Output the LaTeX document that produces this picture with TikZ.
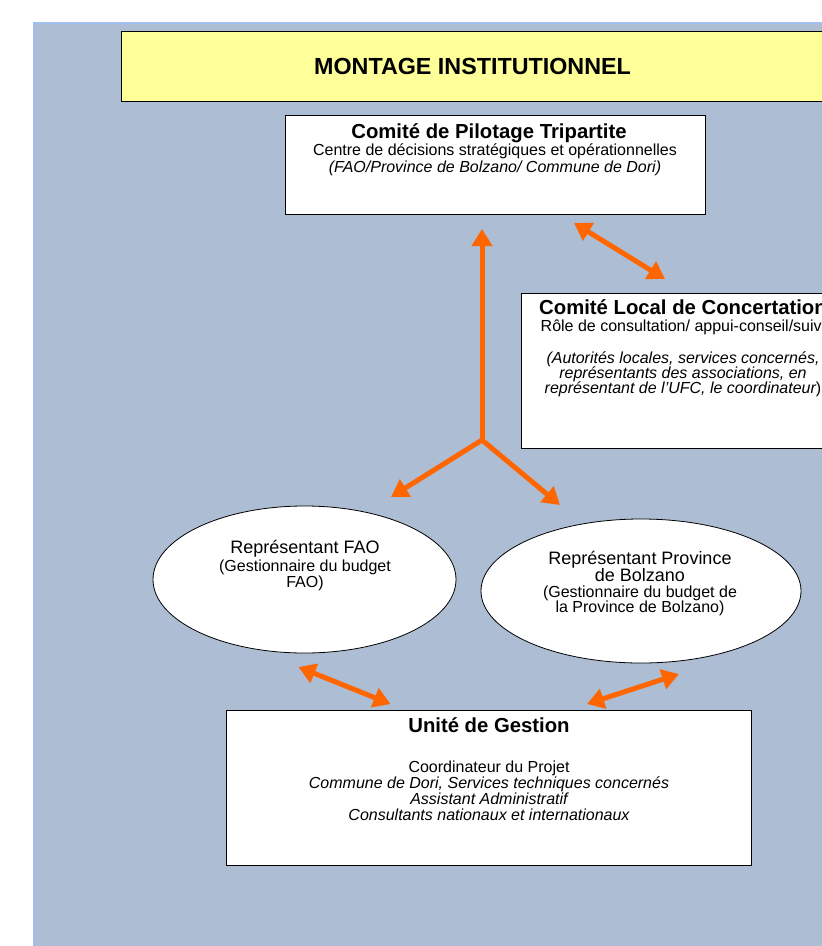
\documentclass[tikz,border=0pt]{standalone}
\usepackage{fontspec}
\setmainfont{Liberation Sans}
\usetikzlibrary{arrows.meta,shapes.geometric}

\definecolor{fondbleu}{RGB}{173,189,211}
\definecolor{bordbleu}{RGB}{160,192,238}
\definecolor{jaunetitre}{RGB}{255,255,153}
\definecolor{orangefleche}{RGB}{255,102,0}

\tikzset{
  boite/.style={draw=black, fill=white, line width=0.9pt, inner sep=0pt},
  bulle/.style={ellipse, draw=black, fill=white, line width=0.8pt, inner sep=0pt},
  titre/.style={font=\fontsize{20.3}{22}\selectfont\bfseries, anchor=base, inner sep=0pt},
  texte/.style={font=\fontsize{16}{17}\selectfont, anchor=base, inner sep=0pt},
  grand/.style={font=\fontsize{18}{20}\selectfont, anchor=base, inner sep=0pt},
  pointe/.tip={Triangle[length=17pt,width=20pt]},
  fleche/.style={draw=orangefleche, line width=5pt, -pointe},
  dfleche/.style={draw=orangefleche, line width=5pt, pointe-pointe},
}

\begin{document}
\begin{tikzpicture}[x=1pt,y=-1pt]
\useasboundingbox (0,0) rectangle (822,946);
\clip (0,0) rectangle (822,946);

% fond
\fill[white] (0,0) rectangle (822,946);
\draw[bordbleu, line width=2.5pt, fill=fondbleu] (34,23) rectangle (840,960);

% titre
\node[boite, fill=jaunetitre, minimum width=703pt, minimum height=70pt] (montage) at (472.5,66) {};
\node[font=\fontsize{23.3}{25}\selectfont\bfseries, anchor=base, inner sep=0pt] (montage-txt) at (472.5,74) {MONTAGE INSTITUTIONNEL};

% comite de pilotage
\node[boite, minimum width=420pt, minimum height=99pt] (pilotage) at (495,164.5) {};
\node[titre] (pilotage-titre) at (489,138) {Comité de Pilotage Tripartite};
\foreach \ligne [count=\i] in {{Centre de décisions stratégiques et opérationnelles},
  {\itshape (FAO/Province de Bolzano/ Commune de Dori)}}
  \node[texte] (pilotage-\i) at (495,138+17*\i) {\ligne};

% comite local
\node[boite, minimum width=323pt, minimum height=155pt] (local) at (683,370.5) {};
\node[titre] (local-titre) at (683,314) {Comité Local de Concertation};
\node[texte] (local-role) at (683,331.5) {Rôle de consultation/ appui-conseil/suivi};
\foreach \ligne [count=\i] in {{(Autorités locales, services concernés,},
  {représentants des associations, en},
  {représentant de l’UFC, le coordinateur\upshape)}}
  \node[texte, font=\fontsize{16}{17}\selectfont\itshape] (local-\i) at (683,348+15*\i) {\ligne};

% representants
\node[bulle, minimum width=303pt, minimum height=147pt] (fao) at (304.5,579.5) {};
\node[grand] (fao-titre) at (305,553) {Représentant FAO};
\node[texte] (fao-1) at (305,571) {(Gestionnaire du budget};
\node[texte] (fao-2) at (305,587) {FAO)};

\node[bulle, minimum width=320pt, minimum height=144pt] (bolzano) at (641,591) {};
\node[grand] (bolzano-titre) at (640,564.5) {Représentant Province};
\node[grand] (bolzano-titre2) at (640,581) {de Bolzano};
\node[texte] (bolzano-1) at (640,597.5) {(Gestionnaire du budget de};
\node[texte] (bolzano-2) at (640,612.5) {la Province de Bolzano)};

% unite de gestion
\node[boite, minimum width=525pt, minimum height=155pt] (gestion) at (488.5,787.5) {};
\node[titre] (gestion-titre) at (489,732) {Unité de Gestion};
\foreach \ligne [count=\i] in {{Coordinateur du Projet},
  {\itshape Commune de Dori, Services techniques concernés},
  {\itshape Assistant Administratif},
  {\itshape Consultants nationaux et internationaux}}
  \node[texte] (gestion-\i) at (489,755.7+16.3*\i) {\ligne};

% fleches
\coordinate (jonction) at (482,440);
\coordinate (haut) at (482,229);
\coordinate (gauche) at (391,497);
\coordinate (droite) at (560,505);
\coordinate (cl-a) at (574,223);
\coordinate (cl-b) at (665,279);
\coordinate (ug-a) at (298.5,667);
\coordinate (ug-b) at (390.5,704);
\coordinate (ug-c) at (587,704);
\coordinate (ug-d) at (679,674);

\draw[fleche] (jonction) -- (haut);
\draw[dfleche] (gauche) -- (jonction) -- (droite);
\draw[dfleche] (cl-a) -- (cl-b);
\draw[dfleche] (ug-a) -- (ug-b);
\draw[dfleche] (ug-c) -- (ug-d);

\end{tikzpicture}
\end{document}
